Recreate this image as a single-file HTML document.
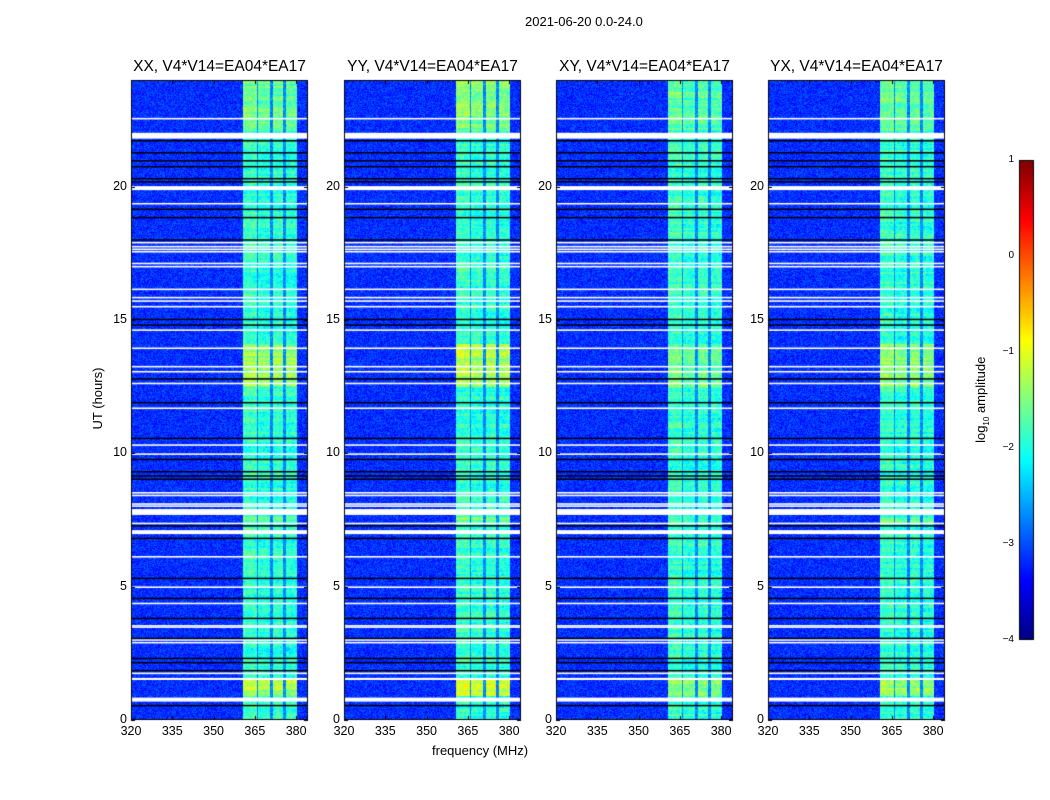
<!DOCTYPE html>
<html><head><meta charset="utf-8">
<style>
body{margin:0;background:#fff;width:1050px;height:800px;overflow:hidden;position:relative;font-family:"Liberation Sans",sans-serif;}
canvas{position:absolute;left:0;top:0;}
.t{position:absolute;color:#000;white-space:nowrap;}
</style></head>
<body>
<canvas id="c" width="1050" height="800"></canvas>
<div class="t" style="left:525px;top:14px;font-size:13px;">2021-06-20 0.0-24.0</div>
<div class="t" style="left:432px;top:743px;font-size:13px;">frequency (MHz)</div>
<div class="t" style="left:60px;top:391px;font-size:13px;transform:rotate(-90deg);transform-origin:center;width:75px;text-align:center;">UT (hours)</div>
<div class="t" style="left:932px;top:391px;font-size:13px;transform:rotate(-90deg);width:100px;text-align:center;">log<sub style="font-size:8px">10</sub> amplitude</div>
<div id="labels"></div>
<script>
// ---- data ----
const panelTitles = ["XX, V4*V14=EA04*EA17","YY, V4*V14=EA04*EA17","XY, V4*V14=EA04*EA17","YX, V4*V14=EA04*EA17"];
const panelLeft = [131, 344, 556, 768];
const freqTicks = [320,335,350,365,380];
const hourTicks = [0,5,10,15,20];
const cbTicks = [1,0,-1,-2,-3,-4];
// bright channel blocks [startMHz, endMHz, log10 amplitude]
const bandStart = [360.7, 366.1, 371.6, 376.3];
const bandEnd   = [365.8, 370.5, 375.2, 380.3];
const bandLevel = [-1.85, -1.95, -1.9, -1.95];
// extra bright time ranges
const boostStart = [0.9, 12.5, 22.1, 7.35];
const boostEnd   = [1.5, 14.1, 24.0, 7.6];
const boostAmt   = [0.6, 0.5, 0.3, 0.25];
const panelBoost = [1.0, 1.3, 0.7, 0.9];
// flagged rows (white) [start,end] hours
const whiteStart = [22.52,21.8,19.87,19.33,17.87,17.72,17.62,17.53,17.09,16.97,16.12,15.81,15.68,15.47,14.59,13.91,13.22,13.03,12.59,11.66,10.28,9.94,8.49,8.39,8.07,7.99,7.69,7.34,6.97,6.09,4.95,4.34,3.53,3.47,2.97,2.87,1.72,1.5,0.69];
const whiteEnd   = [22.58,22.02,20.02,19.39,17.93,17.78,17.68,17.59,17.15,17.03,16.18,15.87,15.74,15.53,14.65,13.97,13.28,13.09,12.65,11.72,10.34,10.0,8.55,8.45,8.13,8.05,7.91,7.4,7.12,6.15,5.01,4.4,3.56,3.51,3.03,2.93,1.78,1.58,0.84];
// flagged rows (black)
const blackH = [21.72,21.27,20.97,20.75,20.3,20.18,19.15,18.84,18.0,15.02,14.81,12.79,11.9,10.56,9.77,9.31,9.15,9.03,7.28,6.81,5.31,4.56,3.81,3.06,2.31,2.15,1.85,0.54];
// ---- drawing ----
const X0=320, X1=384.3, H0=0, H1=24, TOP=80, BOT=720, W=177;
const cv=document.getElementById('c'), ctx=cv.getContext('2d');
function jet(t){t=Math.max(0,Math.min(1,t));const c=v=>Math.round(255*Math.max(0,Math.min(1,v)));
 return [c(1.5-Math.abs(4*t-3)),c(1.5-Math.abs(4*t-2)),c(1.5-Math.abs(4*t-1))];}
function hash(a,b,c){let h=(a*374761393+b*668265263+c*2147483647)|0;h=(h^(h>>>13))*1274126177|0;return ((h^(h>>>16))>>>0)/4294967296;}
const yOf=h=>BOT-(h-H0)/(H1-H0)*(BOT-TOP);
panelLeft.forEach((L,p)=>{
 const img=ctx.createImageData(W,BOT-TOP);
 for(let py=0;py<BOT-TOP;py++){
  const h=H1-(py+0.5)/(BOT-TOP)*(H1-H0);
  let bst=0; for(let k=0;k<boostStart.length;k++) if(h>=boostStart[k]&&h<=boostEnd[k]) bst+=boostAmt[k]*panelBoost[p];
  const rowVar=(hash(0,py>>1,p+3)-0.5)*0.35;
  for(let px=0;px<W;px++){
   const f=X0+(px+0.5)/W*(X1-X0);
   const n=hash(px,py,p+1)-0.5, n2=hash(px>>1,py>>2,p+7)-0.5;
   let v=-3.15+n*0.55;
   let inBand=false;
   for(let k=0;k<bandStart.length;k++) if(f>=bandStart[k]&&f<=bandEnd[k]){v=bandLevel[k]+bst+rowVar+n*0.5+n2*0.3;inBand=true;}
   if(!inBand&&f>bandStart[0]&&f<bandEnd[3]) v=-2.7+n*0.5;
   const t=(v+4)/5, col=jet(t), i=(py*W+px)*4;
   img.data[i]=col[0];img.data[i+1]=col[1];img.data[i+2]=col[2];img.data[i+3]=255;
  }
 }
 ctx.putImageData(img,L,TOP);
 ctx.fillStyle='#fff';
 whiteStart.forEach((s,k)=>{const y1=yOf(whiteEnd[k]),y2=yOf(s);ctx.fillRect(L,y1,W,Math.max(1.5,y2-y1));});
 ctx.fillStyle='#000';
 blackH.forEach(hv=>ctx.fillRect(L,yOf(hv)-0.75,W,1.5));
 ctx.strokeStyle='#000';ctx.lineWidth=1;ctx.strokeRect(L+0.5,TOP+0.5,W-1,BOT-TOP-1);
 ctx.beginPath();
 freqTicks.forEach(fv=>{const x=Math.round(L+(fv-X0)/(X1-X0)*W)+0.5;ctx.moveTo(x,BOT);ctx.lineTo(x,BOT-4);ctx.moveTo(x,TOP);ctx.lineTo(x,TOP+4);});
 hourTicks.forEach(hv=>{const y=Math.round(yOf(hv))+0.5;ctx.moveTo(L,y);ctx.lineTo(L+4,y);ctx.moveTo(L+W,y);ctx.lineTo(L+W-4,y);});
 ctx.stroke();
});
// colorbar
const CBX=1019,CBW=15,CBT=160,CBB=640;
for(let y=CBT;y<CBB;y++){const c=jet(1-(y-CBT)/(CBB-CBT));ctx.fillStyle=`rgb(${c[0]},${c[1]},${c[2]})`;ctx.fillRect(CBX,y,CBW,1);}
ctx.strokeStyle='#000';ctx.strokeRect(CBX+0.5,CBT+0.5,CBW-1,CBB-CBT-1);
// labels
const lab=document.getElementById('labels');
function addT(txt,x,y,size,name,align){
 const d=document.createElement('div');d.className='t';d.textContent=txt;
 
 
 d.style.fontSize=size+'px';d.style.top=y+'px';
 if(align==='c'){d.style.left=x+'px';d.style.transform='translateX(-50%)';}
 else if(align==='r'){d.style.left=(x-60)+'px';d.style.width='60px';d.style.textAlign='right';}
 else d.style.left=x+'px';
 lab.appendChild(d);
}
panelLeft.forEach((L,p)=>{
 addT(panelTitles[p],L+W/2,58,15.5,'panel-title','c');
 freqTicks.forEach(fv=>addT(String(fv),L+(fv-X0)/(X1-X0)*W,724,12.5,'x-tick-label','c'));
 hourTicks.forEach(hv=>addT(String(hv),L-4,yOf(hv)-8,12.5,'y-tick-label','r'));
});
cbTicks.forEach(v=>addT(v<0?'\u2212'+(-v):String(v),1014,CBB-(v+4)/5*(CBB-CBT)-6,10,'colorbar-tick-label','r'));
</script>
</body></html>
